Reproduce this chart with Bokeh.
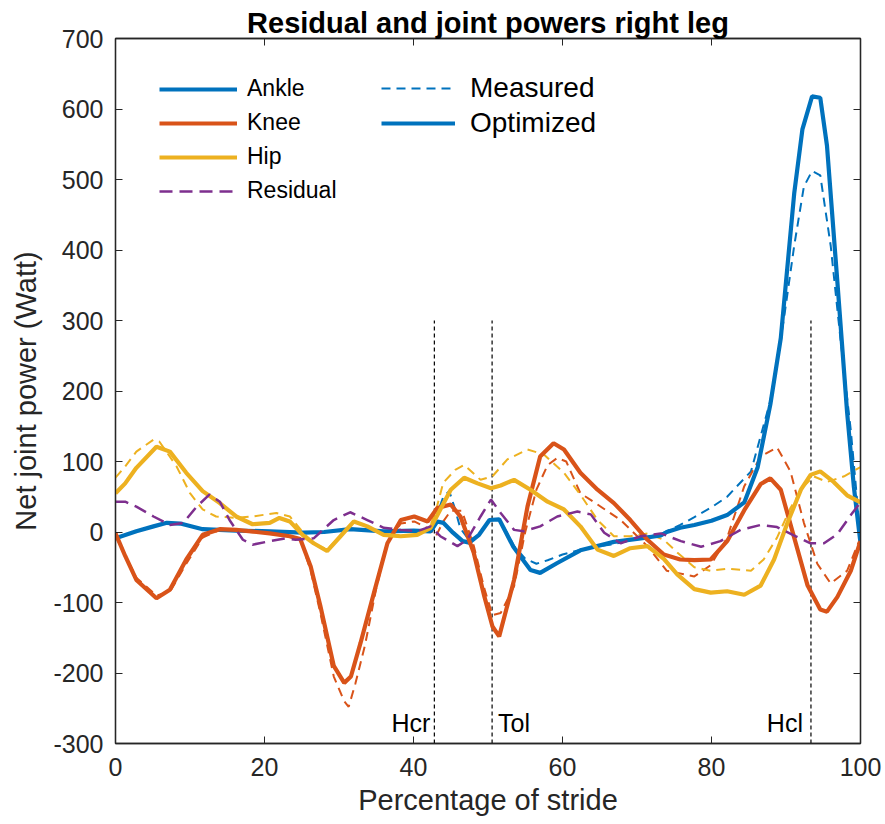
from bokeh.plotting import figure
from bokeh.models import Range1d, LinearAxis, Legend, LegendItem, FixedTicker, CustomJSTickFormatter
from bokeh.core.properties import value
from bokeh.embed import file_html
from bokeh.resources import INLINE

# ---------------- data ----------------
ankle_opt_x = [0, 2.8, 5.1, 6.9, 8.7, 11.7, 16.2, 20.7, 25.2, 28, 31.5, 36, 40, 42.3, 43.2, 44, 45.3, 46.6, 47.5, 48.8,
               50.2, 51.5, 53.4, 55.7, 57, 59.3, 62.4, 66.9, 70.5, 73.2, 74, 75.8, 77.7, 80, 82.1, 84.4, 86.2, 87.9,
               89.3, 91.1, 92.2, 93.5, 94.6, 95.5, 96.9, 98.2, 99.1, 100]
ankle_opt_y = [-9, 1, 8, 13, 12, 4, 2, 1, -1, 0, 4, 1, 2, 1, 15, 13, -1, -13, -15, -4,
               17, 18, -21, -54, -58, -44, -26, -14, -9, -5, 0, 6, 10, 16, 24, 42, 92, 181,
               275, 480, 571, 618, 616, 548, 354, 170, 65, -16]

ankle_meas_x = [0, 2.8, 5.1, 6.9, 8.7, 11.7, 16.2, 20.7, 25.2, 28, 31.5, 36, 40, 42.3, 43, 44, 44.8, 45.5, 46.3, 47.5,
                48.8, 50.2, 51.5, 52.5, 53.5, 55, 56.5, 58, 60, 62.4, 65, 67, 70, 73.2, 75.8, 77.7, 80, 82.1, 85.3,
                87.9, 89.7, 91.1, 92.4, 93.5, 94.6, 96, 97.3, 98.7, 100]
ankle_meas_y = [-9, 1, 8, 13, 12, 4, 2, 1, -1, 0, 4, 1, 2, 1, 20, 50, 58, 35, 5, -12,
                -4, 17, 18, 0, -20, -38, -45, -40, -32, -25, -20, -17, -10, -3, 10, 21, 35, 50, 86,
                186, 301, 406, 490, 512, 506, 406, 275, 144, -8]

knee_opt_x = [0, 1.3, 2.8, 5.5, 7.3, 9.5, 11.7, 14, 16.2, 20.7, 23.4, 24.8, 26.2, 27.5, 29.3, 30.7, 31.6, 32.9, 34.7,
              36.5, 38.3, 40.1, 41.9, 43.2, 45, 46.3, 48.1, 49.5, 50.6, 51.5, 53.5, 55.3, 57, 58.8, 60.2, 62.4, 64.7,
              66.9, 69.1, 71.4, 73.6, 75.8, 77.7, 79.9, 82.1, 84.4, 86.6, 87.9, 89.3, 91.1, 92.9, 94.6, 95.5, 96.9,
              98.7, 100]
knee_opt_y = [-2, -34, -68, -94, -82, -39, -4, 4, 3, -2, -6, -10, -49, -105, -190, -214, -205, -157, -86,
              -16, 17, 22, 15, 34, 39, 22, -30, -91, -134, -148, -68, 36, 107, 126, 117, 84, 60,
              41, 17, -11, -32, -39, -40, -39, -13, 31, 68, 76, 60, -8, -76, -110, -113, -92,
              -55, -13]

knee_meas_x = [0, 2.8, 5.5, 7.3, 9.5, 11.7, 14, 20.7, 24.8, 26.2, 27.5, 29.3, 30.7, 31.3, 32.2, 33.5, 35, 36.5, 38.3,
               40.1, 42, 43, 44, 45, 46.5, 48.1, 49.5, 50.6, 51.7, 53.5, 55, 56.5, 58, 59.3, 60.5, 62.4, 64.7, 67.8,
               71.4, 74, 75.4, 77.7, 79.9, 82.1, 84.4, 86.6, 88.8, 90.6, 92.4, 94.2, 96, 98.2, 100]
knee_meas_y = [-5, -65, -90, -85, -45, -8, 3, -2, -10, -55, -115, -205, -240, -248, -215, -160, -80, -15, 12,
               15, 5, -6, 15, 30, 30, -20, -80, -118, -115, -77, 0, 60, 95, 105, 100, 55, 39, 17,
               -20, -55, -58, -63, -47, -8, 65, 107, 120, 86, 13, -45, -73, -55, -8]

hip_opt_x = [0, 1.3, 2.8, 5.5, 7.3, 9.5, 11.7, 14, 16.2, 18.4, 20.7, 22, 23.4, 25.2, 26.6, 28.4, 30.2, 32, 33.8, 36,
             38.3, 40.5, 42.3, 43.6, 45, 46.8, 48.6, 50.4, 51.7, 53.5, 55.7, 58, 60.2, 62.4, 64.7, 66.9, 69.1, 71.4,
             73.6, 75.4, 77.7, 79.9, 82.1, 84.4, 86.6, 88.4, 90.2, 92, 93.3, 94.6, 96.4, 98.2, 100]
hip_opt_y = [55, 69, 91, 121, 114, 84, 58, 41, 22, 11, 13, 20, 15, -5, -16, -27, -6, 15, 8, -4,
             -6, -4, 6, 32, 60, 77, 69, 62, 66, 74, 60, 43, 32, 8, -25, -34, -23, -20,
             -38, -60, -81, -86, -84, -89, -76, -39, 13, 60, 81, 86, 71, 52, 42]

hip_meas_x = [0, 1.3, 2.8, 5.1, 5.9, 8.2, 10, 11.7, 13.5, 16.2, 18.4, 21.6, 23.4, 25.2, 26.6, 28.4, 30.2, 32, 33.8,
              36, 38.3, 40.5, 42.3, 43, 44, 45.6, 46.8, 49, 50.6, 52.6, 55.3, 57.5, 60.2, 62.4, 64.7, 66.9, 69.1,
              71.4, 73.6, 75.4, 77.7, 79.9, 82.1, 85.3, 87, 88.8, 90.6, 92.4, 93.7, 95.5, 97.8, 100]
hip_meas_y = [77, 93, 114, 131, 128, 93, 55, 32, 22, 20, 22, 27, 22, -1, -16, -25, -5, 15, 8,
              -4, -6, -4, 10, 30, 70, 88, 95, 74, 79, 103, 117, 110, 84, 53, 17, -6, -6,
              -2, -11, -29, -50, -55, -52, -55, -39, -8, 34, 65, 79, 71, 79, 92]

resid_x = [0, 1.3, 2.8, 5.1, 7.3, 9.1, 10.9, 12.6, 14, 15.3, 17.1, 18.4, 20.7, 22.8, 24.2, 26.6, 29.3, 31.5, 33.8,
           36, 38.3, 40.5, 42.3, 43.6, 45.9, 47.2, 49, 50.4, 51.7, 53.5, 54.8, 57, 59.3, 62, 63.8, 65.6, 67.8, 70.5,
           73.2, 75.9, 78.6, 81.2, 83.9, 86.6, 88.8, 91.1, 93.3, 95.1, 96.9, 98.7, 100]
resid_y = [43, 43, 36, 22, 10, 13, 36, 53, 43, 17, -11, -18, -13, -9, -11, -9, 17, 28, 17,
           6, 3, 1, 8, -6, -20, -11, 22, 46, 27, 3, 1, 8, 22, 29, 25, -1, -16, -6,
           -2, -13, -21, -13, 3, 10, 7, -5, -16, -16, -3, 24, 42]

event_pct = [42.8, 50.55, 93.35]
event_labels = ["Hcr", "Tol", "Hcl"]

x_ticks = [0, 20, 40, 60, 80, 100]
y_ticks = [-300, -200, -100, 0, 100, 200, 300, 400, 500, 600, 700]

# ---------------- styling ----------------
C_ANKLE = "#0072BD"
C_KNEE = "#D95319"
C_HIP = "#EDB120"
C_RES = "#7E2F8E"
AXC = "#262626"
FONT = "Liberation Sans"

p = figure(width=885, height=824, output_backend="svg", toolbar_location=None,
           x_range=Range1d(0, 100), y_range=Range1d(-300, 700),
           min_border_left=115, min_border_right=25, min_border_top=38, min_border_bottom=81,
           title="Residual and joint powers right leg")
p.title.text_font = FONT
p.title.text_font_size = "29px"
p.title.text_font_style = "bold"
p.title.text_color = "#000000"
p.title.align = "center"
p.title.offset = 0
p.title.standoff = 0

p.grid.visible = False
p.background_fill_color = "white"
p.border_fill_color = "white"
p.outline_line_color = AXC
p.outline_line_width = 1.3

plain_fmt = CustomJSTickFormatter(code="return tick.toString();")

for ax in (p.xaxis[0], p.yaxis[0]):
    ax.axis_line_color = AXC
    ax.axis_line_width = 1.3
    ax.major_tick_line_color = AXC
    ax.major_tick_in = 7
    ax.major_tick_out = 0
    ax.minor_tick_line_color = None
    ax.major_label_text_font = FONT
    ax.major_label_text_font_size = "25px"
    ax.major_label_text_color = AXC
    ax.axis_label_text_font = FONT
    ax.axis_label_text_font_size = "29px"
    ax.axis_label_text_font_style = "normal"
    ax.axis_label_text_color = AXC
    ax.formatter = plain_fmt

p.xaxis[0].ticker = FixedTicker(ticks=x_ticks)
p.yaxis[0].ticker = FixedTicker(ticks=y_ticks)
p.xaxis[0].axis_label = "Percentage of stride"
p.yaxis[0].axis_label = "Net joint power (Watt)"
p.xaxis[0].major_label_standoff = 14
p.yaxis[0].major_label_standoff = 12
p.xaxis[0].axis_label_standoff = 5
p.yaxis[0].axis_label_standoff = 8

# box ticks on top and right (no labels)
empty_fmt = CustomJSTickFormatter(code="return '';")
for loc, tk in (("right", y_ticks), ("above", x_ticks)):
    ax = LinearAxis(ticker=FixedTicker(ticks=tk), formatter=empty_fmt)
    ax.major_label_text_font_size = "1px"
    ax.major_label_standoff = 0
    ax.major_tick_in = 7
    ax.major_tick_out = 0
    ax.minor_tick_line_color = None
    ax.axis_line_color = AXC
    ax.axis_line_width = 1.3
    ax.major_tick_line_color = AXC
    p.add_layout(ax, loc)

# event lines
for ev in event_pct:
    p.segment(x0=ev, y0=-300, x1=ev, y1=300, line_color="#000000", line_width=1.2, line_dash="4 3")

p.text(x=[event_pct[0]], y=[-271], text=[event_labels[0]], text_align="right", text_baseline="middle",
       x_offset=-4, text_font=value(FONT), text_font_size="25px", text_color="#000000")
p.text(x=[event_pct[1]], y=[-271], text=[event_labels[1]], text_align="left", text_baseline="middle",
       x_offset=6, text_font=value(FONT), text_font_size="25px", text_color="#000000")
p.text(x=[event_pct[2]], y=[-271], text=[event_labels[2]], text_align="right", text_baseline="middle",
       x_offset=-8, text_font=value(FONT), text_font_size="25px", text_color="#000000")

DASH = "9 6"
# measured (dashed)
r_meas = p.line(ankle_meas_x, ankle_meas_y, line_color=C_ANKLE, line_width=2, line_dash=DASH)
p.line(knee_meas_x, knee_meas_y, line_color=C_KNEE, line_width=2, line_dash=DASH)
p.line(hip_meas_x, hip_meas_y, line_color=C_HIP, line_width=2, line_dash=DASH)
# optimized (solid)
r_ankle = p.line(ankle_opt_x, ankle_opt_y, line_color=C_ANKLE, line_width=4.2)
r_knee = p.line(knee_opt_x, knee_opt_y, line_color=C_KNEE, line_width=4.2)
r_hip = p.line(hip_opt_x, hip_opt_y, line_color=C_HIP, line_width=4.2)
r_res = p.line(resid_x, resid_y, line_color=C_RES, line_width=2.5, line_dash="13 7")

leg1 = Legend(items=[LegendItem(label="Ankle", renderers=[r_ankle]),
                     LegendItem(label="Knee", renderers=[r_knee]),
                     LegendItem(label="Hip", renderers=[r_hip]),
                     LegendItem(label="Residual", renderers=[r_res])],
              location=(44, 539), glyph_width=78, glyph_height=26, label_height=26, spacing=7,
              label_standoff=10, padding=0, margin=0,
              label_text_font=FONT, label_text_font_size="23px", label_text_color="#000000",
              border_line_alpha=0, background_fill_alpha=0)
leg2 = Legend(items=[LegendItem(label="Measured", renderers=[r_meas]),
                     LegendItem(label="Optimized", renderers=[r_ankle])],
              location=(266, 604), glyph_width=74, glyph_height=32, label_height=32, spacing=3,
              label_standoff=15, padding=0, margin=0,
              label_text_font=FONT, label_text_font_size="28px", label_text_color="#000000",
              border_line_alpha=0, background_fill_alpha=0)
p.add_layout(leg1, "center")
p.add_layout(leg2, "center")

open("out.html", "w").write(file_html(p, INLINE))
